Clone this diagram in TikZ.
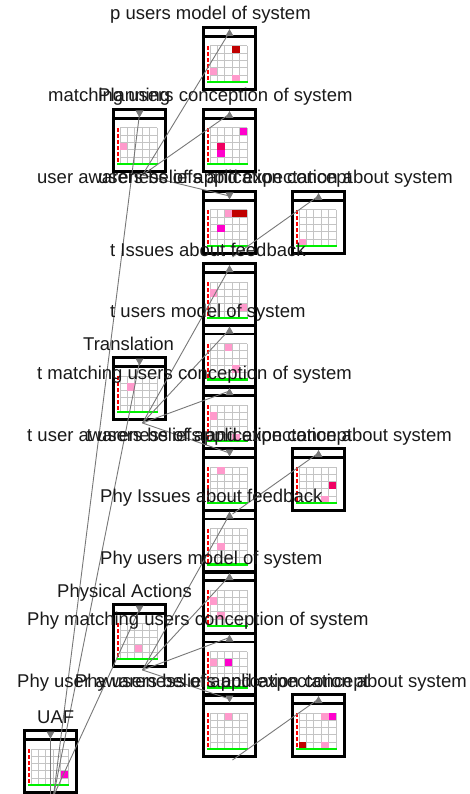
\documentclass[tikz,border=0pt]{standalone}
\usepackage{fontspec}
\setmainfont{Liberation Sans}

\definecolor{dred}{HTML}{C00000}
\definecolor{pinkc}{HTML}{FF9ACC}
\definecolor{magc}{HTML}{FF00CC}
\definecolor{crim}{HTML}{F00062}
\definecolor{gridc}{HTML}{C4C4C4}
\definecolor{greenc}{HTML}{00F000}
\definecolor{edgec}{HTML}{787878}
\definecolor{txtc}{HTML}{1A1A1A}

\tikzset{
  boxframe/.style={draw=black, line width=2.6pt, minimum width=52.4pt, minimum height=62.4pt,
                   inner sep=0pt, outer sep=0pt},
  headline/.style={line width=2.4pt},
  gridline/.style={draw=gridc, line width=1pt},
  redaxis/.style={draw=red, line width=2.3pt, dash pattern=on 4pt off 2pt},
  greenaxis/.style={draw=greenc, line width=2.6pt},
  port/.style={fill=edgec, draw=none},
  edge/.style={draw=edgec, line width=0.9pt},
  lbl/.style={font=\fontsize{18.5}{20}\selectfont, text=txtc, inner sep=0pt, anchor=base west},
  lble/.style={lbl, anchor=base east},
}

% \cpbox{name}{left}{top}{u|d}{col/row/colour,...}
% A node box: title strip with a port triangle, a 5x5 grid of cells,
% a dashed red axis on the left and a green axis along the bottom.
\newcommand{\cpbox}[5]{%
  \begin{scope}[shift={(#2,#3)}]
    \node[boxframe] (#1) at (27.5,32.5) {};
    \draw[headline] (1,10.5) -- (54,10.5);
    \foreach \i in {0,...,5} \draw[gridline] ({8+7.4*\i},20) -- ({8+7.4*\i},56.5);
    \foreach \j in {0,...,5} \draw[gridline] (8,{20+7.3*\j}) -- (45,{20+7.3*\j});
    \foreach \cc/\rr/\col in {#5} {
      \fill[\col] ({8+7.4*\cc},{20+7.3*\rr}) rectangle ++(7.4,7.3);
    }
    \draw[redaxis] (6.3,20) -- (6.3,56);
    \draw[greenaxis] (5,56) -- (45.5,56);
    \if u#4
      \fill[port] (23.5,10) -- (31.5,10) -- (27.5,3) -- cycle;
    \else
      \fill[port] (23.5,2.5) -- (31.5,2.5) -- (27.5,9.5) -- cycle;
    \fi
    \coordinate (#1-in) at (27.5,6);
    \coordinate (#1-out) at (30.5,67);
  \end{scope}}

\begin{document}
\begin{tikzpicture}[x=1pt, y=-1pt]
  \useasboundingbox[fill=white] (0,0) rectangle (469,794);

  % planning layer
  \cpbox{p1}{202}{26}{u}{3/0/dred, 0/3/pinkc, 3/4/pinkc}
  \cpbox{pm}{202}{108}{u}{4/0/magc, 1/2/crim, 1/3/magc}
  \cpbox{pa}{202}{190}{d}{2/0/pinkc, 3/0/dred, 4/0/dred, 1/2/magc}
  \cpbox{pr}{291}{190}{u}{0/4/pinkc}
  \cpbox{plan}{112}{108}{d}{0/2/pinkc}

  % translation layer
  \cpbox{ti}{202}{262}{u}{0/1/pinkc, 4/3/pinkc}
  \cpbox{tm}{202}{323.5}{u}{2/0/pinkc, 3/3/pinkc}
  \cpbox{tc}{202}{385}{u}{0/1/pinkc, 3/4/pinkc}
  \cpbox{ta}{202}{447}{d}{1/0/pinkc}
  \cpbox{tr}{291}{447}{u}{4/2/crim, 3/4/pinkc}
  \cpbox{trans}{112}{356}{d}{1/1/pinkc}

  % physical actions layer
  \cpbox{yi}{202}{508.5}{u}{1/2/pinkc}
  \cpbox{ym}{202}{570}{u}{0/1/pinkc, 1/3/pinkc}
  \cpbox{yc}{202}{631.5}{u}{0/1/pinkc, 2/1/magc}
  \cpbox{ya}{202}{693}{d}{2/0/pinkc}
  \cpbox{yr}{291}{693}{u}{3/0/pinkc, 4/0/magc, 0/4/dred, 3/4/pinkc}
  \cpbox{phys}{112}{603}{d}{2/3/pinkc}

  % root
  \cpbox{uaf}{23}{729}{d}{4/3/magc}
  \coordinate (uafroot) at (50.5,794);

  % connectors
  \draw[edge] (uaf-in) -- (uafroot);
  \foreach \t in {plan,trans,phys} \draw[edge] (uaf-out) -- (\t-in);
  \foreach \t in {p1,pm,pa} \draw[edge] (plan-out) -- (\t-in);
  \foreach \t in {ti,tm,tc,ta} \draw[edge] (trans-out) -- (\t-in);
  \foreach \t in {yi,ym,yc,ya} \draw[edge] (phys-out) -- (\t-in);
  \draw[edge] (pa-out) -- (pr-in);
  \draw[edge] (ta-out) -- (tr-in);
  \draw[edge] (ya-out) -- (yr-in);

  % labels
  \node[lbl] (lp1) at (110,20) {p users model of system};
  \node[lbl] (lpm) at (48,102) {matching users conception of system};
  \node[lbl] (lplan) at (98,102) {Planning};
  \node[lbl] (lpa) at (37,184) {user awareness of application concept};
  \node[lble] (lpr) at (453,184) {users beliefs and expectation about system};

  \node[lbl] (lti) at (110,256) {t Issues about feedback};
  \node[lbl] (ltm) at (110,317.5) {t users model of system};
  \node[lbl] (ltrans) at (83,350) {Translation};
  \node[lbl] (ltc) at (37,379) {t matching users conception of system};
  \node[lbl] (lta) at (27,441) {t user awareness of application concept};
  \node[lble] (ltr) at (452,441) {t users beliefs and expectation about system};

  \node[lbl] (lyi) at (100,502.5) {Phy Issues about feedback};
  \node[lbl] (lym) at (100,564) {Phy users model of system};
  \node[lbl] (lphys) at (57,597) {Physical Actions};
  \node[lbl] (lyc) at (27,625.5) {Phy matching users conception of system};
  \node[lbl] (lya) at (17,687) {Phy user awareness of application concept};
  \node[lble] (lyr) at (467,687) {Phy users beliefs and expectation about system};

  \node[lbl] (luaf) at (37,723) {UAF};
\end{tikzpicture}
\end{document}
